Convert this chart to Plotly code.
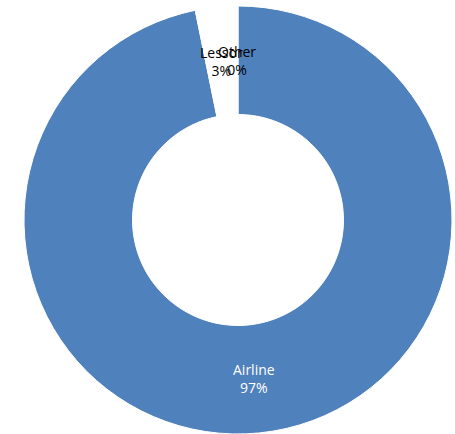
import math
import plotly.graph_objects as go

labels = ["Airline", "Lessor", "Other"]
values = [96.8, 3.1, 0.1]
colors = ["#4F81BD", "#FFFFFF", "#FFFFFF"]
text_colors = ["white", "black", "black"]

W, H = 455, 434
cx, cy = 238, 220          # pie centre in pixels
r_out, r_in = 214, 105.5   # outer / inner radius in pixels

fig = go.Figure()

fig.add_trace(
    go.Pie(
        labels=labels,
        values=values,
        hole=r_in / r_out,
        sort=False,
        direction="clockwise",
        rotation=0,
        marker=dict(colors=colors, line=dict(color="white", width=1)),
        textinfo="none",
        hoverinfo="label+percent",
        showlegend=False,
        domain=dict(x=[(cx - r_out) / W, (cx + r_out) / W],
                    y=[1 - (cy + r_out) / H, 1 - (cy - r_out) / H]),
    )
)

# data labels at the middle of each slice, halfway across the ring
total = sum(values)
cum = 0
r_lab = (r_out + r_in) / 2
for lab, v, tc in zip(labels, values, text_colors):
    theta = 2 * math.pi * (cum + v / 2) / total
    cum += v
    px = cx + r_lab * math.sin(theta)
    py = cy - r_lab * math.cos(theta)
    fig.add_annotation(
        x=px / W, y=1 - py / H, xref="paper", yref="paper",
        xanchor="center", yanchor="middle",
        text=f"{lab}<br>{round(100 * v / total)}%",
        showarrow=False,
        font=dict(family="Open Sans", size=14, color=tc),
        align="center",
    )

fig.update_layout(
    width=W,
    height=H,
    margin=dict(l=0, r=0, t=0, b=0),
    paper_bgcolor="white",
    plot_bgcolor="white",
)

# drop the page's default body margin so the chart sits at the window corner
fig.write_html("out.html", config={"displayModeBar": False},
               post_script="document.body.style.margin='0px';")
